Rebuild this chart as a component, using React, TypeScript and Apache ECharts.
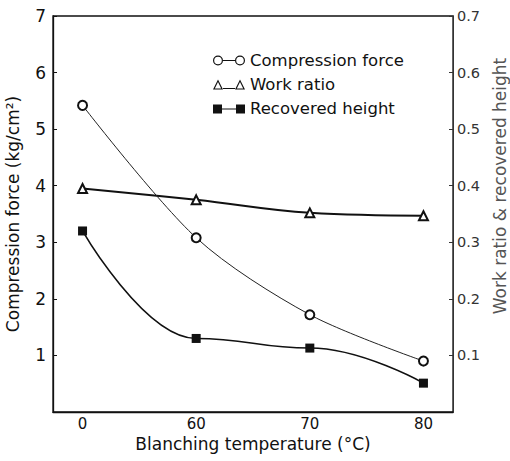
import React, { useEffect, useRef } from "react";
import * as echarts from "echarts";

const categories = ["0", "60", "70", "80"];
const compressionForce = [5.42, 3.08, 1.72, 0.9];
const workRatio = [0.395, 0.375, 0.352, 0.347];
const recoveredHeight = [0.32, 0.13, 0.113, 0.051];
const leftTicks = [0, 1, 2, 3, 4, 5, 6, 7];
const rightTicks = [0, 0.1, 0.2, 0.3, 0.4, 0.5, 0.6, 0.7];

const FONT = "DejaVu Sans";
const INK = "#111";

const iconCircle =
  "path://M0 5A5 5 0 1 0 10 5A5 5 0 1 0 0 5ZM1.2 5A3.8 3.8 0 1 1 8.8 5A3.8 3.8 0 1 1 1.2 5ZM10 4.5L22 4.5L22 5.5L10 5.5ZM22 5A5 5 0 1 0 32 5A5 5 0 1 0 22 5ZM23.2 5A3.8 3.8 0 1 1 30.8 5A3.8 3.8 0 1 1 23.2 5Z";
const iconTriangle =
  "path://M0 10L5 0L10 10ZM1.8 9L8.2 9L5 2.4ZM10 8.5L22 8.5L22 9.5L10 9.5ZM22 10L27 0L32 10ZM23.8 9L30.2 9L27 2.4Z";
const iconSquare =
  "path://M0 1L9 1L9 10L0 10ZM9 5L23 5L23 6L9 6ZM23 1L32 1L32 10L23 10ZM0 0L0.01 0L0.01 0.01Z";

export default function App() {
  const ref = useRef<HTMLDivElement>(null);
  useEffect(() => {
    if (!ref.current) return;
    const chart = echarts.init(ref.current, undefined, { renderer: "svg" });
    const toPts = (arr: number[]) => arr.map((v, i) => [i, v]);
    chart.setOption({
      animation: false,
      backgroundColor: "#fff",
      textStyle: { fontFamily: FONT, color: INK },
      grid: {
        left: 53,
        right: 57,
        top: 16,
        bottom: 49,
        outerBoundsMode: "none",
        containLabel: false,
        show: true,
        borderColor: INK,
        borderWidth: 1.3,
        backgroundColor: "transparent",
      },
      legend: {
        orient: "vertical",
        left: 213,
        top: 52,
        itemWidth: 32,
        itemHeight: 10,
        itemGap: 7,
        padding: 0,
        textStyle: { fontFamily: FONT, fontSize: 16.5, color: INK },
        data: [
          { name: "Compression force", icon: iconCircle, itemStyle: { color: INK, borderWidth: 0 } },
          { name: "Work ratio", icon: iconTriangle, itemStyle: { color: INK, borderWidth: 0 } },
          { name: "Recovered height", icon: iconSquare, itemStyle: { color: INK, borderWidth: 0 } },
        ],
      },
      xAxis: {
        type: "value",
        min: -0.26,
        max: 3.26,
        name: "Blanching temperature (°C)",
        nameLocation: "middle",
        nameGap: 16,
        nameTextStyle: { fontFamily: FONT, fontSize: 17, color: INK },
        axisLine: { show: true, onZero: false, lineStyle: { color: INK, width: 1.3 } },
        axisTick: { show: false },
        splitLine: { show: false },
        axisLabel: {
          customValues: [0, 1, 2, 3],
          formatter: (v: number) => categories[Math.round(v)] ?? "",
          fontFamily: FONT,
          fontSize: 15,
          color: INK,
          margin: 4,
        },
      },
      yAxis: [
        {
          type: "value",
          min: leftTicks[0],
          max: leftTicks[leftTicks.length - 1],
          interval: 1,
          position: "left",
          name: "Compression force (kg/cm²)",
          nameLocation: "middle",
          nameGap: 32,
          nameTextStyle: { fontFamily: FONT, fontSize: 17, color: INK },
          axisLine: { show: true, onZero: false, lineStyle: { color: INK, width: 1.3 } },
          axisTick: { show: true, inside: true, length: 4, lineStyle: { color: INK } },
          splitLine: { show: false },
          axisLabel: {
            showMinLabel: false,
            fontFamily: FONT,
            fontSize: 17,
            color: INK,
            margin: 7,
          },
        },
        {
          type: "value",
          min: rightTicks[0],
          max: rightTicks[rightTicks.length - 1],
          interval: 0.1,
          position: "right",
          axisLine: { show: true, onZero: false, lineStyle: { color: "#333", width: 1 } },
          axisTick: { show: true, inside: true, length: 4, lineStyle: { color: "#333" } },
          splitLine: { show: false },
          axisLabel: {
            showMinLabel: false,
            formatter: (v: number) => v.toFixed(1),
            fontFamily: FONT,
            fontSize: 14.5,
            color: "#333",
            margin: 4,
          },
        },
      ],
      graphic: [
        {
          type: "text",
          x: 500,
          y: 186,
          rotation: Math.PI / 2,
          style: {
            text: "Work ratio & recovered height",
            fontFamily: FONT,
            fontSize: 17,
            fill: "#555",
            align: "center",
            verticalAlign: "middle",
          },
        },
      ],
      series: [
        {
          name: "Compression force",
          type: "line",
          yAxisIndex: 0,
          data: toPts(compressionForce),
          smooth: 0.3,
          symbol: "emptyCircle",
          symbolSize: 9,
          lineStyle: { color: "#222", width: 1 },
          itemStyle: { color: INK, borderColor: INK, borderWidth: 1 },
          z: 3,
        },
        {
          name: "Work ratio",
          type: "line",
          yAxisIndex: 1,
          data: toPts(workRatio),
          smooth: 0.4,
          symbol: "emptyTriangle",
          symbolSize: 9,
          lineStyle: { color: INK, width: 2 },
          itemStyle: { color: INK, borderColor: INK, borderWidth: 1 },
          z: 2,
        },
        {
          name: "Recovered height",
          type: "line",
          yAxisIndex: 1,
          data: toPts(recoveredHeight),
          smooth: 0.45,
          smoothMonotone: "x",
          symbol: "rect",
          symbolSize: 9,
          lineStyle: { color: INK, width: 1.6 },
          itemStyle: { color: INK },
          z: 4,
        },
      ],
    });
    return () => chart.dispose();
  }, []);
  return <div ref={ref} style={{ width: 510, height: 461, position: "absolute", left: 0, top: 0 }} />;
}
